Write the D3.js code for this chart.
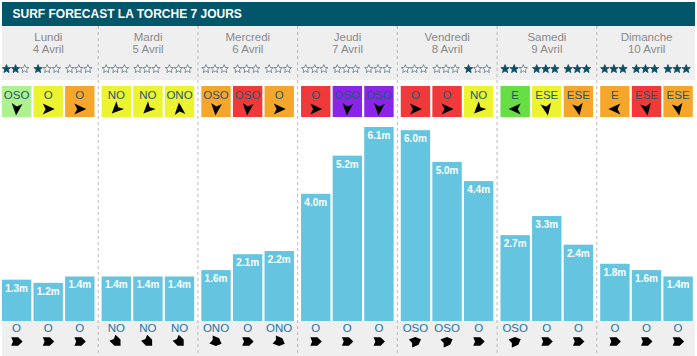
<!DOCTYPE html>
<html><head><meta charset="utf-8">
<script src="https://cdn.jsdelivr.net/npm/d3@7"></script>
<style>
body{margin:0;background:#fff}
svg{display:block;font-family:"Liberation Sans",Arial,Helvetica,sans-serif}
</style>
</head><body>
<svg id="c" width="697" height="356"></svg>
<script>
// ---------- data ----------
const title = "SURF FORECAST LA TORCHE 7 JOURS";
const days = ["Lundi","Mardi","Mercredi","Jeudi","Vendredi","Samedi","Dimanche"];
const dates = ["4 Avril","5 Avril","6 Avril","7 Avril","8 Avril","9 Avril","10 Avril"];
const ratings = [[2,1,0],[0,0,0],[0,0,0],[0,0,0],[0,0,1],[2,3,3],[3,3,3]];
const windDir = [["OSO","O","O"],["NO","NO","ONO"],["OSO","OSO","O"],["O","OSO","OSO"],["O","O","NO"],["E","ESE","ESE"],["E","ESE","ESE"]];
// wind category: 0 offshore green, 1 light green, 2 yellow, 3 orange, 4 red, 5 purple
const windLevel = [[1,2,3],[2,2,2],[3,4,3],[4,5,5],[4,4,2],[0,2,3],[3,4,3]];
const windArrowDeg = [[95,0,0],[135,135,-95],[95,95,0],[0,95,95],[0,0,135],[180,80,80],[180,80,80]];
const waveHeight = [[1.3,1.2,1.4],[1.4,1.4,1.4],[1.6,2.1,2.2],[4.0,5.2,6.1],[6.0,5.0,4.4],[2.7,3.3,2.4],[1.8,1.6,1.4]];
const swellDir = [["O","O","O"],["NO","NO","NO"],["ONO","O","ONO"],["O","O","O"],["OSO","OSO","O"],["OSO","O","O"],["O","O","O"]];
const slots = [0,1,2];
const compass = {N:0,NNE:22.5,NE:45,ENE:67.5,E:90,ESE:112.5,SE:135,SSE:157.5,S:180,SSO:202.5,SO:225,OSO:247.5,O:270,ONO:292.5,NO:315,NNO:337.5};

// ---------- layout ----------
const W = 697, H = 356;
const svg = d3.select("#c");
const x = d3.scaleBand().domain(days).range([-1.5, 696.5]);
const xs = d3.scaleBand().domain(slots).range([3.4, 96]).paddingInner(2.2/31.6);
const y = d3.scaleLinear().domain([0, 6.1]).range([321, 127]);
const windColor = d3.scaleOrdinal().domain([0,1,2,3,4,5])
  .range(["#66de44","#adf28f","#ebf42f","#f5a62b","#f03a3a","#8a25e8"]);

// backgrounds
svg.append("rect").attr("x",2).attr("y",2).attr("width",693).attr("height",24).attr("fill","#02566a");
svg.append("text").attr("x",12.5).attr("y",17.5).attr("fill","#fff")
  .attr("font-size",12).attr("font-weight","bold").text(title);
svg.append("rect").attr("x",2).attr("y",26).attr("width",693).attr("height",54).attr("fill","#efefef");
svg.append("rect").attr("x",2).attr("y",321).attr("width",693).attr("height",35).attr("fill","#efefef");

// dividers
svg.append("g").selectAll("line").data(days.slice(1)).join("line")
  .attr("x1",d=>x(d)).attr("x2",d=>x(d)).attr("y1",26).attr("y2",H)
  .attr("stroke","#b9b9b9").attr("stroke-dasharray","3,3");

const dayG = svg.append("g").selectAll("g").data(days).join("g")
  .attr("transform",d=>`translate(${x(d)},0)`);

dayG.append("text").attr("x",x.bandwidth()/2).attr("y",40.5).attr("text-anchor","middle")
  .attr("font-size",11.5).attr("fill","#8a8a8a").text(d=>d);
dayG.append("text").attr("x",x.bandwidth()/2).attr("y",53).attr("text-anchor","middle")
  .attr("font-size",11.5).attr("fill","#8a8a8a").text((d,i)=>dates[i]);

// star path
function starPath(r1, r2){
  const pts=[];
  for(let k=0;k<10;k++){
    const r = k%2===0? r1 : r2;
    const a = -Math.PI/2 + k*Math.PI/5;
    pts.push([r*Math.cos(a), r*Math.sin(a)]);
  }
  return "M"+pts.map(p=>p[0].toFixed(2)+","+p[1].toFixed(2)).join("L")+"Z";
}
const sp = starPath(4.4,1.9);
const navArrow = "M6.5,0L-5.5,-5.4L-2.6,0L-5.5,5.4Z";
const blockArrow = "M6,0L1.6,-4.3L-5.4,-4.3L-3.6,0L-5.4,4.3L1.6,4.3Z";

days.forEach((day,di)=>{
  const g = svg.append("g").attr("transform",`translate(${x(day)},0)`);
  slots.forEach(s=>{
    const bx = xs(s), bw = xs.bandwidth(), cx = bx + bw/2;
    // stars
    [0,1,2].forEach(k=>{
      const filled = k < ratings[di][s];
      g.append("path").attr("d",sp)
        .attr("transform",`translate(${bx+4.6+k*9.1},69)`)
        .attr("fill",filled?"#0b4d66":"#fff")
        .attr("stroke",filled?"#0b4d66":"#5b7684").attr("stroke-width",0.8);
    });
    // wind box
    g.append("rect").attr("x",bx).attr("y",86).attr("width",bw).attr("height",31)
      .attr("fill",windColor(windLevel[di][s]));
    g.append("text").attr("x",cx).attr("y",99).attr("text-anchor","middle")
      .attr("font-size",11.5).attr("fill","#1d5870").text(windDir[di][s]);
    g.append("path").attr("d",navArrow)
      .attr("transform",`translate(${cx},109) rotate(${windArrowDeg[di][s]})`).attr("fill","#000");
    // bar
    const v = waveHeight[di][s];
    g.append("rect").attr("x",bx).attr("y",y(v)).attr("width",bw).attr("height",y(0)-y(v))
      .attr("fill","#65c4df");
    g.append("text").attr("x",cx).attr("y",y(v)+12).attr("text-anchor","middle")
      .attr("font-size",10).attr("font-weight","bold").attr("fill","#fff").text(v.toFixed(1)+"m");
    // swell
    g.append("text").attr("x",cx).attr("y",332).attr("text-anchor","middle")
      .attr("font-size",11.5).attr("fill","#2271a8").text(swellDir[di][s]);
    const ang = (compass[swellDir[di][s]] + 180) - 90;
    g.append("path").attr("d",blockArrow)
      .attr("transform",`translate(${cx},341.5) rotate(${ang})`).attr("fill","#000");
  });
});
</script>
</body></html>
